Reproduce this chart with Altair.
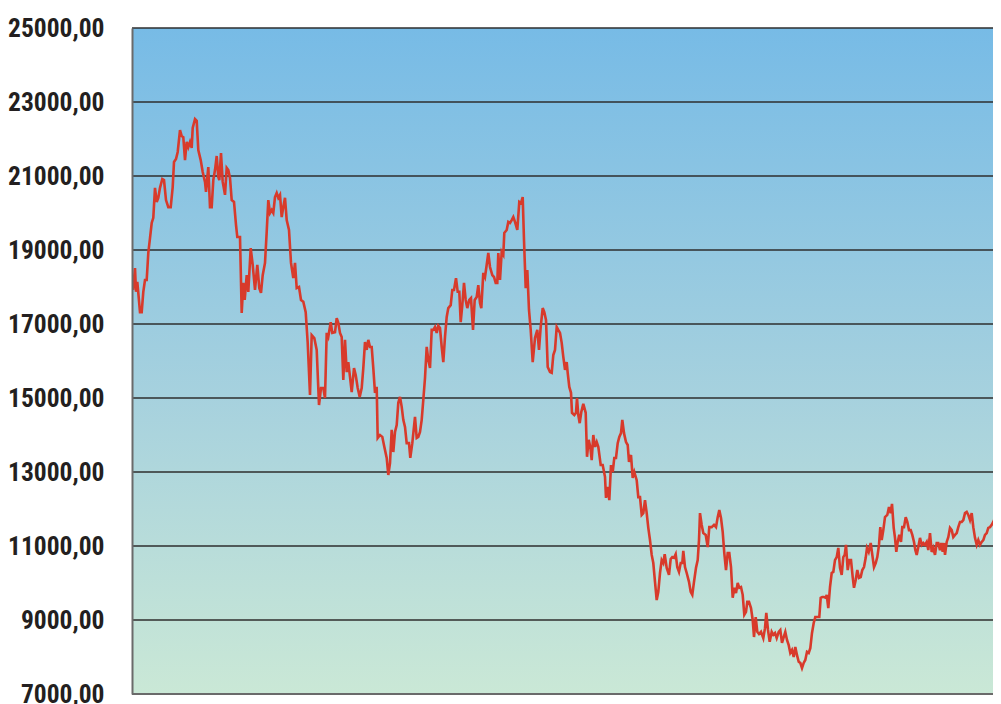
import altair as alt
import pandas as pd

# y-axis tick values and gridlines
tick_values = [7000, 9000, 11000, 13000, 15000, 17000, 19000, 21000, 23000, 25000]
grid_values = [9000, 11000, 13000, 15000, 17000, 19000, 21000, 23000, 25000]
bottom_value = [7000]

# (day, index level), in six stretches
leg1 = [(1,17920),(3,18510),(4,17870),(5.3,18140),(6.3,17840),(8,17320),(9.7,17320),(11.3,17870),
        (13,18190),(14.7,18190),(16.3,18920),(18,19320),(19.7,19730),(21.3,19870),(23,20680),
        (24.7,20300),(26.3,20410),(28,20680),(30.3,20920),(32,20890),(34,20350),(36.3,20160),
        (38.7,20160),(40.7,20700),(42,21380),(44,21460),(45.7,21650),(48,22240),(49.7,22080),
        (51.3,22050),(53,21430),(54.7,21920),(56.3,21780),(58,21920),(59.7,21760),(60.7,22300),
        (63,22540),(64.7,22490),(66.3,21700),(68.7,21430),(70.7,21110),(73,20840),(74,20570),
        (76.3,21240),(78,20160),(79.7,20160),(81.3,20890),(83,21160),(84.7,21540),(86.3,20970),
        (87.3,20890),(89,21620),(90.7,20840),(93,20490),(94.7,21220),(96.3,21160),(98,20950),
        (99.7,20350),(102,20300),(104,19680),(105.3,19350),(108,19350),(109.7,17300),(111.3,18110),
        (112.7,17650),(114.7,18320),(116.3,17870),(118.7,19050),(120.7,18600),(123,17920),
        (125.3,18600),(127.3,17970),(129,17840),(130.7,18320),(133,18650),(134.7,19490),
        (136.3,20350),(138,20000),(139.7,20080),(141.3,20000),(143,20430),(144.7,20540),
        (146.3,20410),(148,20490),(149.7,19890),(151.3,20160),(153,20410)]

leg2 = [(154.7,19810),(157,19540),(159,18650),(161.3,18240),(163,18650),(164.7,17970),(167,18000),
        (169,17650),(171.3,17600),(173.7,17320),(175.7,16490),(178,15080),(179.7,16700),
        (182.3,16620),(184.7,16300),(187,14810),(189,15270),(191.3,15270),(193,15000),(194.7,16760),
        (196.3,16650),(198.7,17050),(200.3,16760),(203,16780),(204.7,17160),(206.3,17030),
        (208,16760),(209.7,16650),(211.3,15490),(213,16570),(214.7,15700),(216.3,15970),
        (218,15570),(219.7,15160),(222,15810),(223.7,15620),(225.7,15270),(227.7,15030),
        (229.7,15270),(231.3,15810),(233,16510),(234.7,16300),(236.3,16570),(238,16380),
        (239.7,16380),(241.3,15810),(243,15140),(244.7,15300),(245.7,13920),(248,14000),
        (250.3,13950),(252.3,13680),(254.7,13380),(256.3,12920),(258,13240),(259.7,14140),
        (261.3,13540),(263,14080),(264.7,14270),(266.3,14870),(268,15030),(269.7,14760),
        (271.3,14410),(273,14220),(274.7,13780),(277,13780),(278.3,13380),(280.3,13780),
        (283,14490),(284.7,13920),(286.3,13950),(288,14080),(289.7,14410),(291.3,14950),
        (293,15540),(294.7,16380),(296.3,16030),(298,15810),(299.7,16840),(301.3,16840),
        (303,16920),(304.7,16760),(306.3,16950)]

leg3 = [(308,16890),(309.7,16380),(311.3,15970),(313,16650),(314.7,17190),(316.3,17430),
        (318.7,17510),(320.3,17920),(322,17920),(324,18240),(325.7,17870),(327.3,17870),
        (328.7,17050),(330.3,17510),(332,18110),(333.7,17650),(335.3,17430),(337.3,17650),
        (339,17700),(341,16840),(342.7,17650),(344.7,17730),(346.3,18050),(348,17570),
        (349.3,17430),(351.3,18380),(353,18270),(354.7,18600),(356.3,18920),(358,18540),
        (360.3,18320),(362,18270),(363.7,18110),(365.3,18110),(366.3,18920),(368,18190),
        (369.7,18950),(371.3,18870),(372.3,19460),(374.7,19540),(376.3,19760),(378,19730),
        (379.7,19810),(381.3,19890),(383,19760),(385.3,19540),(387.3,20300),(389,20270),
        (390.7,20430),(392,19270),(393.7,17970),(395.3,18460),(397,17380),(398.7,16840),
        (400.7,15970),(403,16620),(405.3,16840),(407,16300),(408.7,16920),(410.7,17430),
        (412.3,17320),(414,17110),(415.7,15840),(418,15700),(419.7,15680),(421.3,16160),
        (423,16300),(424.7,16920),(426.3,16840),(428,16760),(429.7,16490),(431.3,16110),
        (433,15760),(434.7,15970),(435.7,15680),(437.3,15300),(439,15140),(440,14600),
        (442.3,14540),(444,14600),(445,15000),(446.3,14540),(447.7,14320),(449.3,14620),
        (451.3,14840),(453.7,14600),(455,13410),(456.7,13870),(458.3,13680)]

leg4 = [(459.7,13320),(461.3,14000),(463,13680),(464.7,13810),(466.3,13680),(468.7,13190),
        (470.7,13190),(473,12870),(474,12300),(475.7,12600),(477.3,12240),(479,13190),
        (480.7,13000),(482.3,13380),(484,13380),(485.7,13780),(487.3,13950),(489,14050),
        (490.3,14410),(492,14050),(494,13810),(495.7,13730),(497,13270),(499,13460),
        (500.7,12840),(502.3,13000),(504.7,12780),(506.3,12320),(508,12320),(509.7,11840),
        (511.3,11890),(513,12240),(514.7,11890),(516.3,11490),(518,11160),(519.7,10760),
        (521.3,10540),(523,10030),(524.7,9540),(526.3,9760),(528,10270),(529.7,10620),
        (531.3,10540),(532.7,10780),(534.7,10410),(537,10220),(538.7,10650),(540.3,10700),
        (542,10680),(543.7,10780),(545.3,10430),(547,10300),(548.7,10540),(550.3,10540),
        (551.3,10870),(553,10430),(554.7,10270),(557,10030),(558.7,9760),(560.3,9680),
        (562,10030),(564,10410),(565.7,10620),(567,11160),(568,11890),(569.7,11570),
        (571.3,11350),(573.7,11300),(575.7,10970),(577.3,11510),(579.7,11510),(582,11570),
        (584,11510),(585.7,11780),(587.3,11970),(589,11760),(590.7,11380),(592.3,10810),
        (594,10350),(595.7,10810),(597.3,10810),(599,10430),(600.7,9600),(602.3,9870),
        (604,9730),(605.7,10000),(607.3,9870)]

leg5 = [(609,9890),(610.7,9680),(612.3,9140),(614,9220),(615.3,9490),(617,9490),(619,9320),
        (620.7,9000),(622,8540),(623.7,9080),(625.3,8680),(627,8620),(629,8680),(631.3,8510),
        (633,8780),(634.3,9190),(636,8730),(637.7,8410),(639.7,8680),(641.3,8600),(643,8650),
        (644.7,8510),(646.7,8680),(648.3,8730),(650,8380),(651.7,8540),(653.3,8680),(655,8460),
        (656.7,8320),(658.3,8110),(660,8190),(661.7,8000),(663.3,8270),(665,8050),(666.7,7870),
        (668.3,7840),(670,7700),(671.7,7840),(673.3,7920),(675,8140),(676.7,8110),(678.3,8240),
        (680,8650),(681.7,8920),(683.3,9080),(685.7,9080),(687.3,9080),(688.7,9600),(690.3,9620),
        (692,9620),(693.7,9600),(694.7,9680),(696.3,9320),(698,9890),(699.7,10270),(701.3,10300),
        (703,10620),(704.7,10700),(706.3,10950),(708,10410),(709.7,10220),(711.3,10700),
        (712.7,10760),(714,11030),(715.7,10350),(717.3,10620),(719,10620),(720.7,10160),
        (722,9870),(723.7,10080),(725.3,10350),(727,10140),(728.7,10160),(730.3,10350),
        (732,10430),(733.7,10680),(735,10950),(736.7,10840),(738.7,11080),(740.3,10760),
        (742,10430),(743.7,10540),(745.3,10700),(747,11030)]

leg6 = [(748.3,11510),(749.7,11160),(751.3,11430),(753,11780),(755.3,11840),(757,12050),
        (758.7,11890),(760,12140),(761.7,11490),(763,11220),(764.3,10840),(765.7,11110),
        (767.3,11300),(769,11110),(770.3,11510),(772,11510),(773.7,11780),(775.3,11650),
        (777,11430),(778.7,11430),(780.3,11300),(782,11110),(783.3,10890),(784.7,10760),
        (786.3,10970),(788,11220),(789.7,11030),(791.3,11080),(793,11030),(794.7,11110),
        (796.3,10890),(798,11350),(799.7,10840),(801.3,10950),(803,10760),(804.7,11080),
        (806.3,11080),(808,10890),(809.3,11080),(810.7,10840),(812,11080),(813,10760),
        (814.7,11110),(816.3,11240),(818,11490),(819.7,11430),(821.3,11240),(823,11300),
        (824.7,11350),(826.3,11510),(828,11650),(829.7,11650),(831.3,11700),(833,11890),
        (834.7,11920),(836.3,11840),(838,11700),(839.7,11890),(841.3,11510),(843,11220),
        (844.7,11030),(846.3,11160),(848,11030),(849.7,11110),(851.3,11160),(853,11300),
        (854.7,11350),(856.3,11490),(858,11510),(859.7,11570),(861.3,11650),(863,11760),
        (864.7,11730),(866.3,11890),(867.3,11780),(868.7,12240)]

series = pd.DataFrame(leg1 + leg2 + leg3 + leg4 + leg5 + leg6, columns=["day", "level"])

# the page leaves room for a plot 861 px wide; the picture's last few days fall past the edge
W, H = 861, 666
x_scale = alt.Scale(domain=[0, 861], nice=False, zero=False)
y_scale = alt.Scale(domain=[7000, 25000], nice=False, zero=False)
FONT = "Roboto Condensed, Liberation Sans, sans-serif"

y_axis = alt.Axis(
    values=tick_values,
    title=None,
    grid=False,
    ticks=False,
    tickSize=0,
    domain=True,
    domainColor="#6a6a6a",
    domainWidth=2,
    labelPadding=28,
    labelFont=FONT,
    labelFontSize=25.5,
    labelFontWeight="bold",
    labelColor="#231f20",
    labelExpr="replace(format(datum.value, '.2f'), '.', ',')",
    zindex=1,
)

background = alt.Chart(pd.DataFrame({"k": [0]})).mark_rect(
    fill=alt.Gradient(
        gradient="linear",
        stops=[
            alt.GradientStop(color="#77bbe6", offset=0),
            alt.GradientStop(color="#a6d1de", offset=0.55),
            alt.GradientStop(color="#cae8d6", offset=1),
        ],
        x1=0, x2=0, y1=0, y2=1,
    )
).encode(x=alt.value(0), x2=alt.value(W), y=alt.value(0), y2=alt.value(H))

grid = alt.Chart(pd.DataFrame({"level": grid_values})).mark_rule(
    color="#2e2e2e", strokeWidth=1.3
).encode(y=alt.Y("level:Q", scale=y_scale, axis=y_axis))

bottom = alt.Chart(pd.DataFrame({"level": bottom_value})).mark_rule(
    color="#6a6a6a", strokeWidth=2
).encode(y=alt.Y("level:Q", scale=y_scale, axis=y_axis))

line = alt.Chart(series).mark_line(color="#d83a2b", strokeWidth=2.6, clip=True).encode(
    x=alt.X("day:Q", scale=x_scale, axis=None),
    y=alt.Y("level:Q", scale=y_scale, axis=y_axis),
)

chart = alt.layer(background, grid, bottom, line).properties(
    width=W,
    height=H,
    autosize=alt.AutoSizeParams(type="none"),
    padding={"left": 124, "top": 20, "right": 0, "bottom": 10},
).configure_view(stroke=None)

chart.save("out.html", embed_options={"renderer": "svg", "actions": False})
